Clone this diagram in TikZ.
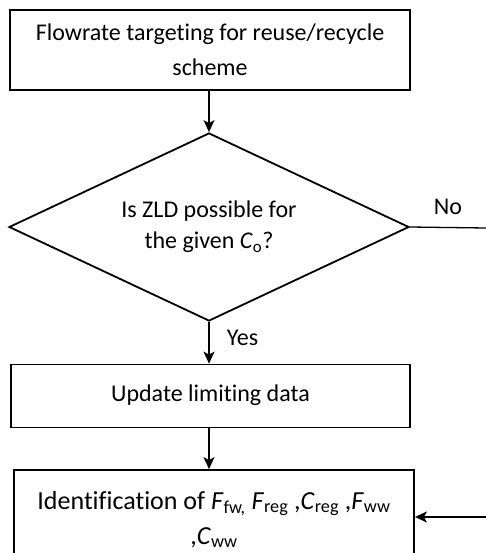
\documentclass[tikz,border=0pt]{standalone}
\usepackage{fontspec}
\setmainfont[Ligatures=NoCommon]{Carlito}
\usetikzlibrary{shapes.geometric,arrows.meta}

\newcommand{\vsub}[2]{\textit{#1}\textsubscript{#2}}

\begin{document}
\begin{tikzpicture}[x=1pt,y=-1pt,>={Stealth[length=12pt,width=11pt,inset=3pt]},thick,
    flowbox/.style={rectangle,draw,line width=1.8pt,align=center,inner sep=0pt,font=\fontsize{24}{37}\selectfont},
    decision/.style={diamond,draw,line width=1.8pt,inner sep=0pt,minimum width=400pt,minimum height=188pt},
    arrow/.style={->,line width=1.3pt}]
            \useasboundingbox (0,0) rectangle (486,553);
            \clip (0,0) rectangle (486,553);
            \node[flowbox,minimum width=400pt,minimum height=80pt] (1) at (210,50) {\raisebox{-2pt}{Flowrate targeting for reuse/recycle}\\scheme};
            \node[decision,label={[align=center,font=\fontsize{24}{31}\selectfont]center:Is ZLD possible for\\the given \vsub{C}{o}?}] (2) at (209,227) {};
            \node[flowbox,minimum width=399pt,minimum height=63pt] (3) at (210.5,396) {\raisebox{6pt}{Update limiting data}};
            \node[flowbox,minimum width=400pt,minimum height=99pt,font=\fontsize{26}{35}\selectfont] (4) at (214,519.5) {Identification of \vsub{F}{fw,} \vsub{F}{reg} ,\vsub{C}{reg} ,\vsub{F}{ww}\\,\vsub{C}{ww}};
            \coordinate (noend) at (486,228);
            \coordinate (back) at (486,517);

            \draw[arrow] (1.south -| 2.north) -- (2.north);
            \draw[arrow] (2.south) -- node[right,xshift=14pt,yshift=5pt,font=\fontsize{24}{26}\selectfont] {Yes} (2.south |- 3.north);
            \draw[arrow] (2.south |- 3.south) -- (2.south |- 4.north);
            \draw[line width=1.3pt] (2.east) -- node[above,yshift=9pt,font=\fontsize{24}{26}\selectfont] {No} (noend);
            \draw[arrow] (back) -- (4.east |- back);
\end{tikzpicture}
\end{document}
